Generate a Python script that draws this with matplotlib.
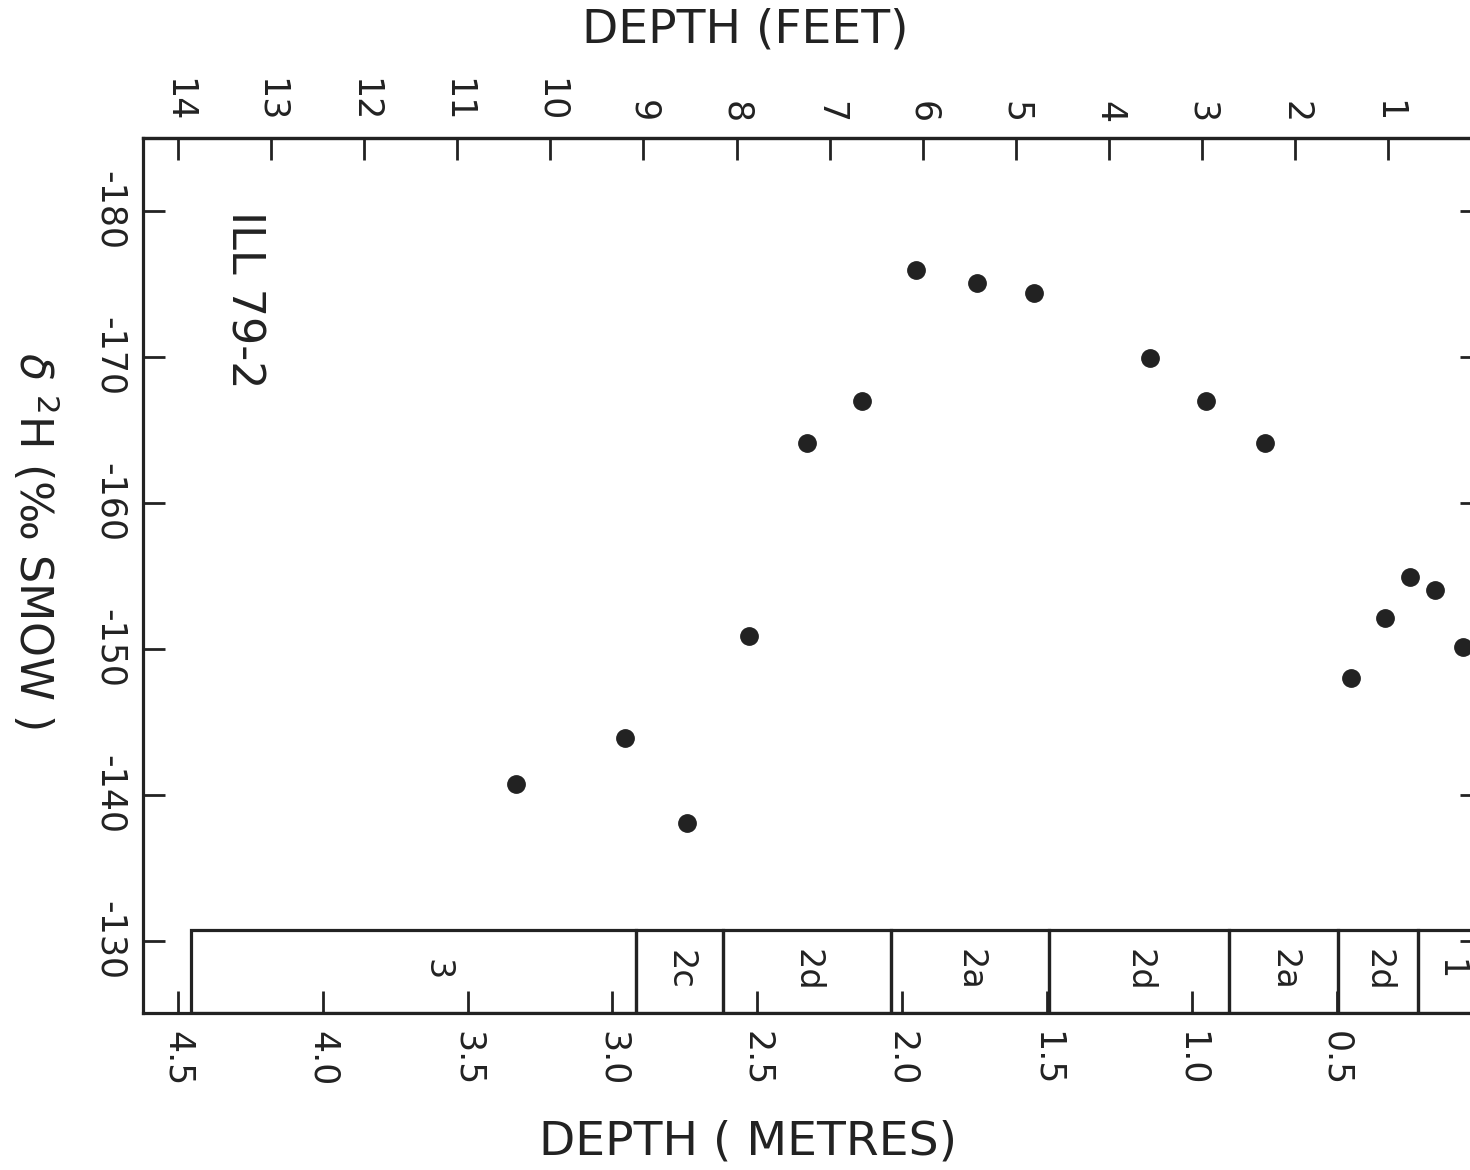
import matplotlib
matplotlib.use("Agg")
import matplotlib.pyplot as plt
from matplotlib.patches import Rectangle

# depth (m) and delta 2H (per mil SMOW)
depth_m = [1.952, 1.741, 1.545, 1.144, 0.951, 0.747, 2.138, 2.328, 2.528,
           2.956, 3.332, 2.742, 0.247, 0.161, 0.333, 0.064, 0.451]
d2h = [-175.95, -175.06, -174.38, -169.92, -166.97, -164.09, -166.97, -164.09,
       -150.89, -143.89, -140.74, -138.07, -154.9, -154.05, -152.1, -150.1, -148.0]

# stratigraphic units along the bottom
zone_edges = [4.455, 2.918, 2.618, 2.040, 1.493, 0.873, 0.494, 0.221, 0.0]
zone_names = ["3", "2c", "2d", "2a", "2d", "2a", "2d", "1"]

m_ticks = [4.5, 4.0, 3.5, 3.0, 2.5, 2.0, 1.5, 1.0, 0.5]
ft_ticks = [14, 13, 12, 11, 10, 9, 8, 7, 6, 5, 4, 3, 2, 1]
y_ticks = [-180, -170, -160, -150, -140, -130]

INK = "#222222"
FT = 4.5 / 14  # feet scale as drawn on the original


def m2ft(x):
    return x / FT


def ft2m(x):
    return x * FT


fig = plt.figure(figsize=(14.7, 11.7), dpi=100)
ax = fig.add_axes([143 / 1470, 1 - 1012.9 / 1170, (1481.6 - 143) / 1470, (1012.9 - 138) / 1170])

ax.plot(depth_m, d2h, "o", color=INK, markersize=12.5, zorder=3)

ax.set_xlim(4.62, 0.0)
ax.set_ylim(-125.05, -185.0)

box_top = -130.75
for left, right, name in zip(zone_edges[:-1], zone_edges[1:], zone_names):
    ax.add_patch(Rectangle((right, box_top), left - right, -125.05 - box_top,
                           fill=False, edgecolor=INK, linewidth=2.3, zorder=2))
    xc = (left + right) / 2
    if name == "3":
        xc = left - 0.85  # label sits right of centre in the original
    ax.text(xc, -128.0, name, rotation=-90, fontsize=24,
            color=INK, ha="center", va="center")

ax.text(4.27, -173.9, "ILL 79-2", rotation=-90, fontsize=32, color=INK,
        ha="center", va="center")

ax.set_xticks(m_ticks)
ax.set_xticklabels(["%.1f" % v for v in m_ticks], rotation=-90)
ax.set_yticks(y_ticks)
ax.set_yticklabels([str(v) for v in y_ticks], rotation=-90, va="center")

ax.tick_params(axis="both", direction="in", length=16, width=2, color=INK,
               labelsize=25, labelcolor=INK, pad=12)
ax.tick_params(axis="y", right=True)
ax.tick_params(axis="x", pad=13)

sec = ax.secondary_xaxis("top", functions=(m2ft, ft2m))
sec.set_xticks(ft_ticks)
sec.set_xticklabels([str(v) for v in ft_ticks], rotation=-90)
sec.tick_params(direction="in", length=16, width=2, color=INK, labelsize=25,
                labelcolor=INK, pad=11)
for sp in sec.spines.values():
    sp.set_linewidth(2.3)
    sp.set_color(INK)

for sp in ax.spines.values():
    sp.set_linewidth(2.3)
    sp.set_color(INK)

fig.text(745 / 1470, 1 - 30 / 1170, "DEPTH (FEET)", fontsize=34, color=INK,
         ha="center", va="center")
fig.text(748 / 1470, 1 - 1142 / 1170, "DEPTH ( METRES)", fontsize=34, color=INK,
         ha="center", va="center")
fig.text(35 / 1470, 1 - 540 / 1170, r"$\delta$ $^{2}$H (‰ SMOW )", fontsize=32,
         color=INK, rotation=-90, ha="center", va="center")

fig.savefig("out.png", dpi=100)
